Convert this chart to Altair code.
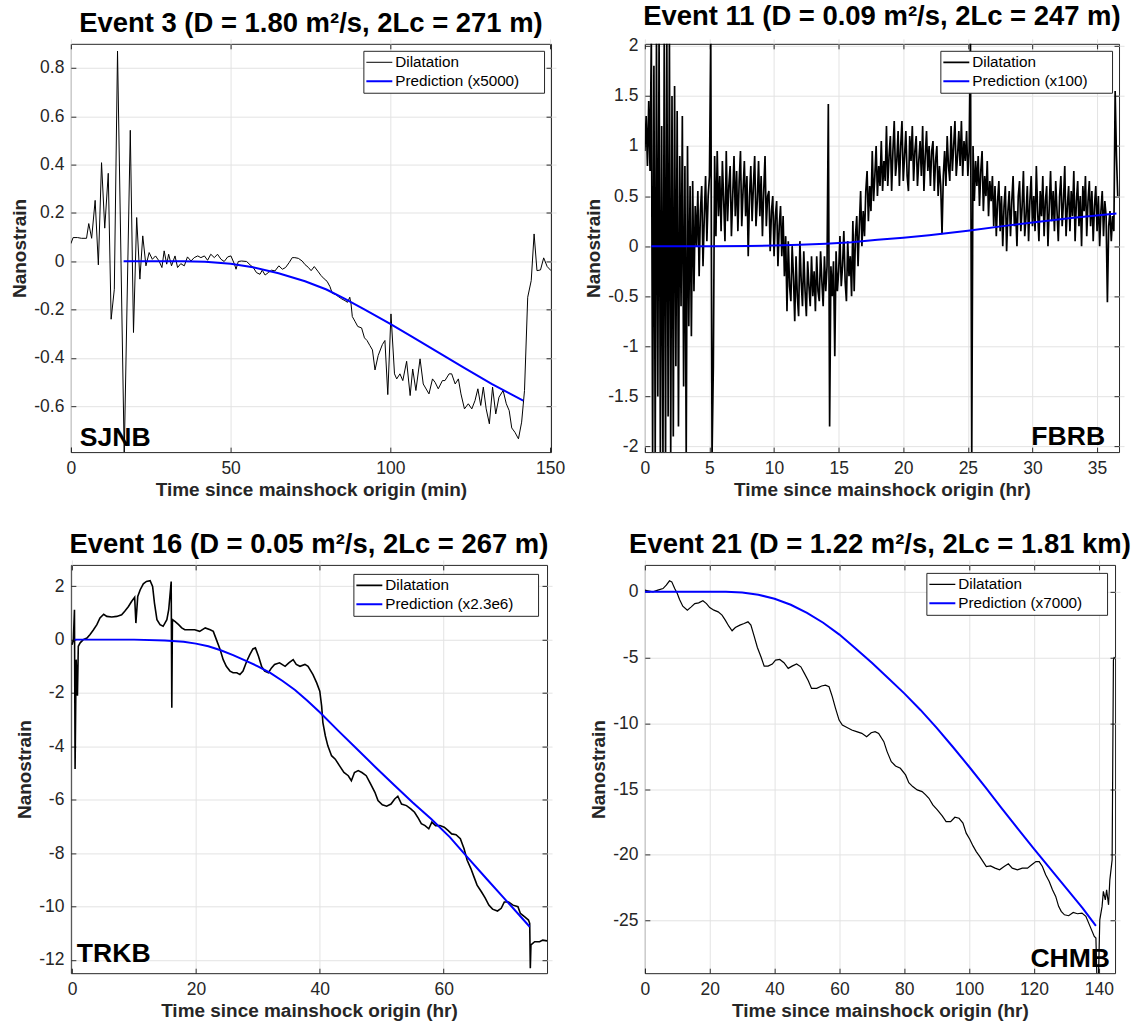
import altair as alt
import pandas as pd

FONT = "Liberation Sans"
INK = "#262626"
PAD = "\u2800" * 2  # blank glyphs that widen the legend box on the right

# ---------------- Event 3 : SJNB (minutes) ----------------
sjnb_t = [0, 0.7, 2.1, 3.3, 4.9, 5.6, 6.5, 7.6, 8.6, 9.6,
          10.6, 11.7, 12.6, 13.6, 14.6, 16.7, 18.6, 19.6, 20.6, 21.6,
          22.5, 23.5, 24.5, 25.5, 26.5, 27.6, 28.5, 29.2, 30.0, 30.6,
          31.5, 32.6, 33.4, 34.4, 35.5, 36.5, 37.6, 38.6, 39.7, 40.7,
          41.8, 42.8, 43.8, 44.9, 45.9, 47.0, 48.0, 49.1, 50.1, 51.2,
          51.7, 52.4, 53.4, 55.0, 56.1, 57.1, 58.1, 59.2, 59.9, 60.8,
          61.8, 62.8, 63.9, 65.1, 66.2, 67.2, 68.3, 69.3, 70.1, 71.2,
          72.4, 73.3, 74.3, 75.2, 76.2, 77.3, 78.3, 79.3, 80.2, 81.1,
          81.8, 82.9, 83.7, 84.8, 85.8, 86.6, 87.3, 87.7, 88.1, 88.9,
          89.8, 91.0, 91.9, 92.7, 93.6, 94.4, 95.2, 96.2, 97.5, 98.3,
          99.2, 100.2, 101.3, 102.0, 103.0, 103.9, 105.1, 106.2, 107.0, 108.0,
          109.3, 110.3, 112.1, 113.2, 114.0, 115.0, 116.3, 117.1, 118.4, 119.2,
          120.3, 121.3, 122.1, 123.2, 124.4, 125.5, 126.5, 127.4, 128.3, 129.1,
          130.0, 131.0, 132.0, 133.0, 134.0, 135.3, 136.3, 137.2, 138.0, 139.0,
          140.1, 141.1, 142.0, 143.0, 144.1, 145.0, 145.9, 147.0, 148.0, 149.1,
          150.3]
sjnb_v = [0.073, 0.098, 0.098, 0.095, 0.095, 0.156, 0.095, 0.252, -0.015, 0.408,
          0.137, 0.364, -0.240, -0.116, 0.870, -0.800, 0.542, -0.295, 0.181, -0.074,
          0.105, -0.019, 0.036, 0.008, 0.022, 0.001, -0.026, 0.043, -0.012, 0.029,
          -0.019, 0.022, -0.026, -0.010, -0.019, 0.018, 0.001, 0.015, 0.022, 0.015,
          0.022, 0.004, 0.029, 0.015, 0.029, 0.008, -0.001, 0.018, 0.022, -0.012,
          -0.033, -0.001, 0.001, -0.001, -0.015, -0.026, -0.047, -0.054, -0.037, -0.057,
          -0.047, -0.037, -0.040, -0.019, -0.033, -0.026, -0.006, 0.015, 0.015, 0.012,
          0.001, -0.014, -0.025, -0.039, -0.022, -0.041, -0.059, -0.073, -0.083, -0.105,
          -0.132, -0.138, -0.146, -0.156, -0.163, -0.170, -0.149, -0.177, -0.229, -0.248,
          -0.270, -0.276, -0.317, -0.328, -0.349, -0.367, -0.450, -0.390, -0.345, -0.328,
          -0.552, -0.218, -0.466, -0.487, -0.466, -0.494, -0.414, -0.556, -0.446, -0.535,
          -0.404, -0.508, -0.549, -0.487, -0.501, -0.528, -0.494, -0.494, -0.466, -0.466,
          -0.508, -0.487, -0.549, -0.611, -0.590, -0.611, -0.577, -0.528, -0.597, -0.521,
          -0.611, -0.673, -0.521, -0.632, -0.563, -0.535, -0.590, -0.618, -0.690, -0.708,
          -0.735, -0.666, -0.535, -0.149, -0.080, 0.113, -0.039, -0.036, 0.014, -0.022,
          -0.039]
sjnb_pred_t = [16.5, 25, 35, 42, 50, 57, 65, 73.3, 80, 85.8, 92, 99.7, 107, 115, 123, 131.7, 137, 141.6]
sjnb_pred_v = [0, 0, 0, -0.002, -0.010, -0.025, -0.050, -0.083, -0.117, -0.156, -0.200, -0.257,
               -0.314, -0.377, -0.440, -0.508, -0.545, -0.577]

# ---------------- Event 11 : FBRB (hours, 0.1 h samples) ----------------
fbrb_v = [
    # 0.0 - 0.4
    0.95, 1.3, 0.8, 1.45, 0.75,
    # 0.5 - 2.1
    2.1, -2.1, 1.8, -2.1, 2.1, -1.5, 2.1, -2.1, 1.2, -2.1, 2.1, -2.1, 2.1, -1.7, 2.1, -2.1, 1.5,
    # 2.2 - 3.5
    -1.9, 1.6, -1.2, 1.35, -1.8, 0.9, -0.6, 1.3, -1.4, 0.8, -2.1, 1.0, -0.8, 0.6,
    # 3.6 - 4.9
    -0.9, 0.65, -0.45, 0.4, 0.0, 0.55, -0.3, 0.35, 0.6, -0.2, 0.3, 0.7, 0.05, 0.5,
    # 5.0 - 5.4
    0.7, 2.1, -2.1, -1.2, 0.9,
    # 5.5 - 9.5
    0.1, 0.95, 0.3, 0.7, 0.15, 0.85, 0.45, 0.05, 0.95, 0.25,
    0.6, 0.8, 0.1, 0.5, 0.9, 0.3, 0.75, 0.15, 0.65, 0.95,
    0.2, 0.55, 0.85, 0.3, 0.7, -0.1, 0.5, 0.8, 0.25, 0.6,
    0.9, 0.2, 0.45, 0.85, 0.3, 0.7, 0.1, 0.55, 0.9, 0.2, 0.5,
    # 9.6 - 10.9
    0.55, -0.05, 0.35, 0.5, -0.1, 0.3, 0.45, -0.2, 0.2, 0.4, -0.1, 0.3, -0.3, 0.1,
    # 11.0 - 14.1
    -0.65, 0.05, -0.4, -0.55, 0.0, -0.3, -0.75, -0.1, -0.5, -0.7,
    0.05, -0.35, -0.6, -0.05, -0.45, -0.7, -0.15, -0.4, -0.6, -0.1,
    -0.5, -0.25, -0.65, -0.1, -0.45, -0.55, -0.05, -0.35, -0.6, -0.1,
    -0.45, -0.2,
    # 14.2 - 14.3
    1.42, -1.8,
    # 14.4 - 16.0
    -0.2, -0.5, -0.15, -1.1, -0.05, -0.45, -0.25, 0.1, -0.4, -0.2, 0.15, -0.35, -0.55, 0.05,
    -0.3, -0.1, -0.5,
    # 16.1 - 18.9
    0.25, -0.45, 0.1, 0.3, -0.2, 0.2, 0.55, 0.0, 0.35, 0.1,
    0.55, 0.75, 0.25, 0.6, 0.35, 0.95, 0.45, 0.7, 1.0, 0.5,
    0.8, 0.6, 1.05, 0.55, 0.85, 0.65, 1.2, 0.6, 0.9,
    # 19.0 - 22.8
    1.1, 0.55, 0.95, 1.25, 0.7, 0.85, 1.15, 0.6, 1.0, 1.25,
    0.65, 0.9, 1.15, 0.7, 0.55, 1.1, 0.85, 1.2, 0.65, 0.95,
    1.1, 0.6, 0.85, 1.05, 0.7, 1.2, 0.55, 0.9, 1.15, 0.75,
    1.0, 0.6, 0.95, 1.05, 0.55, 0.85, 1.0, 0.5, 0.8,
    # 22.9 - 23.1
    0.6, 0.12, 0.7,
    # 23.2 - 25.1
    0.95, 0.6, 1.1, 0.8, 0.65, 1.2, 0.75, 1.0, 1.25, 0.7,
    0.9, 1.15, 0.8, 1.25, 0.7, 1.05, 0.85, 1.15, 0.7, 0.95,
    # 25.2 - 25.3
    2.1, -2.1,
    # 25.4 - 26.9
    1.0, 0.45, 0.85, 0.6, 0.9, 0.4, 0.75, 0.95, 0.35, 0.7, 0.5, 0.85, 0.3, 0.65, 0.45, 0.7,
    # 27.0 - 35.7
    0.2, 0.6, 0.1, 0.45, 0.65, 0.15, 0.5, 0.0, 0.4, 0.6,
    -0.05, 0.35, 0.55, 0.1, 0.45, 0.7, 0.2, 0.35, 0.0, 0.5,
    0.65, 0.15, 0.4, 0.75, 0.1, 0.3, 0.6, 0.05, 0.45, 0.7,
    0.2, 0.5, 0.15, 0.8, 0.35, 0.05, 0.55, 0.3, 0.7, 0.1,
    0.45, 0.6, 0.0, 0.4, 0.75, 0.25, 0.55, 0.15, 0.65, 0.35,
    0.05, 0.5, 0.7, 0.2, 0.45, 0.8, 0.1, 0.4, 0.6, 0.15,
    0.55, 0.3, 0.75, 0.05, 0.45, 0.65, 0.2, 0.5, 0.0, 0.6,
    0.35, 0.7, 0.1, 0.45, 0.65, 0.2, 0.55, 0.05, 0.4, 0.6,
    0.15, 0.5, 0.0, 0.35, 0.55, 0.1, 0.45, 0.3,
    # 35.8 - 36.6
    -0.56, 0.2, 0.35, 0.05, 0.3, 0.15, 1.55, 0.9, 0.5,
]
fbrb_t = [round(0.1 * i, 1) for i in range(len(fbrb_v))]
fbrb_pred_t = [0.5, 5, 8, 10, 12, 14, 16, 18, 20, 22, 25, 28, 30, 33, 36.5]
fbrb_pred_v = [0, 0, 0.002, 0.006, 0.014, 0.025, 0.040, 0.063, 0.085, 0.110, 0.155, 0.205, 0.236, 0.280, 0.326]

# ---------------- Event 16 : TRKB (hours) ----------------
trkb_t = [0, 0.2, 0.38, 0.48, 0.65, 0.86, 1.0, 1.3, 1.8, 2.4,
          2.9, 3.4, 4.0, 4.5, 5.1, 5.6, 6.4, 7.2, 8.0, 8.5,
          9.1, 9.6, 10.1, 10.3, 10.6, 11.0, 11.5, 12.0, 12.6, 13.0,
          13.3, 13.7, 14.2, 14.7, 15.3, 15.6, 16.0, 16.1, 16.2, 16.6,
          17.2, 17.7, 18.2, 19.0, 19.8, 20.6, 21.5, 22.3, 22.8, 23.3,
          23.9, 24.4, 24.9, 25.5, 26.0, 26.6, 27.1, 27.6, 28.2, 28.7,
          29.2, 29.6, 30.1, 30.6, 31.1, 31.7, 32.2, 32.7, 33.5, 34.4,
          35.0, 35.7, 36.2, 36.8, 37.6, 38.1, 38.9, 39.5, 40.0, 40.3,
          40.5, 40.9, 41.3, 41.9, 42.5, 43.2, 43.9, 44.6, 45.1, 45.6,
          46.2, 46.8, 47.5, 48.2, 48.9, 49.4, 50.1, 50.8, 51.5, 52.1,
          52.6, 53.2, 54.0, 54.7, 55.3, 55.9, 56.4, 57.0, 57.6, 58.1,
          58.7, 59.4, 60.1, 60.7, 61.3, 62.0, 62.7, 63.3, 63.8, 64.4,
          64.9, 65.4, 66.1, 66.7, 67.3, 67.9, 68.7, 69.3, 69.8, 70.5,
          71.2, 72.0, 72.4, 73.1, 73.7, 73.9, 74.0, 74.1, 74.7, 75.5,
          76.0, 76.7]
trkb_v = [-0.19, 0.0, 1.12, -4.85, -0.75, -2.1, -0.25, -0.12, 0.0, 0.06,
          0.19, 0.35, 0.56, 0.81, 0.95, 0.87, 0.85, 0.87, 0.93, 1.06,
          1.24, 1.43, 1.59, 0.62, 1.62, 1.87, 2.09, 2.18, 2.21, 1.99,
          1.37, 0.75, 0.56, 0.50, 0.75, 1.12, 2.18, -2.55, 0.75, 0.68,
          0.56, 0.44, 0.37, 0.37, 0.37, 0.31, 0.44, 0.37, 0.31, 0.0,
          -0.37, -0.75, -1.0, -1.18, -1.24, -1.24, -1.31, -1.18, -0.81, -0.56,
          -0.35, -0.31, -0.62, -1.0, -1.18, -1.24, -1.06, -0.93, -0.87, -1.0,
          -0.87, -0.75, -0.93, -1.0, -0.93, -1.0, -1.31, -1.62, -1.93, -2.49,
          -3.11, -3.61, -3.98, -4.35, -4.48, -4.73, -4.98, -5.10, -5.29, -4.98,
          -4.91, -4.98, -5.10, -5.41, -5.72, -6.03, -6.19, -6.24, -6.16, -5.97,
          -5.87, -6.16, -6.22, -6.34, -6.47, -6.69, -6.90, -6.97, -7.09, -6.84,
          -6.97, -6.97, -7.03, -7.15, -7.28, -7.31, -7.46, -7.84, -8.27, -8.58,
          -8.89, -9.20, -9.45, -9.68, -9.95, -10.10, -10.17, -10.07, -9.83, -9.83,
          -9.95, -10.01, -10.26, -10.39, -10.51, -10.63, -12.31, -11.44, -11.32, -11.32,
          -11.26, -11.29]
trkb_pred_t = [0.4, 10, 15, 18, 20, 22, 24, 26, 28, 30, 32, 34, 36, 38, 40,
               43, 46, 49, 52, 55, 58, 61, 64, 67, 70, 73.9]
trkb_pred_v = [0, 0, -0.03, -0.08, -0.15, -0.25, -0.40, -0.58, -0.79, -1.0, -1.25, -1.55,
               -1.89, -2.29, -2.72, -3.42, -4.10, -4.78, -5.45, -6.10, -6.72, -7.40,
               -8.20, -8.98, -9.75, -10.76]

# ---------------- Event 21 : CHMB (hours) ----------------
chmb_t = [0, 0.9, 2.5, 4.0, 5.6, 6.6, 7.6, 8.3, 9.2, 10.0,
          10.7, 11.7, 13.1, 14.3, 15.4, 16.6, 17.9, 19.0, 20.0, 21.3,
          22.6, 23.8, 24.8, 25.9, 26.9, 27.9, 29.3, 30.6, 31.8, 32.7,
          33.7, 34.7, 35.8, 36.8, 38.0, 39.3, 40.3, 41.6, 42.9, 44.2,
          45.4, 46.8, 48.1, 49.2, 50.4, 51.4, 53.0, 54.5, 55.7, 56.8,
          57.8, 58.8, 59.9, 60.9, 62.2, 63.8, 65.3, 66.9, 68.4, 69.8,
          71.0, 72.1, 73.7, 74.7, 76.0, 77.3, 78.8, 80.4, 81.4, 82.6,
          84.0, 85.5, 86.6, 87.6, 88.8, 90.2, 91.7, 92.9, 94.3, 95.6,
          96.9, 98.1, 99.1, 100.2, 101.2, 102.2, 103.3, 104.3, 105.3, 106.6,
          108.0, 109.4, 110.8, 112.1, 113.3, 114.9, 116.4, 118.0, 119.3, 120.6,
          121.6, 122.6, 123.6, 124.7, 125.7, 126.7, 127.6, 128.4, 129.4, 130.7,
          132.1, 133.4, 134.8, 136.0, 137.3, 138.6, 139.1, 139.4, 139.9, 140.3,
          141.0, 141.4, 142.0, 142.4, 143.0, 143.4, 144.1, 144.5, 144.8]
chmb_v = [0.13, 0.08, 0.0, 0.13, 0.25, 0.51, 0.84, 0.76, 0.25, -0.13,
          -0.58, -1.09, -1.39, -1.14, -0.89, -0.84, -0.68, -0.89, -1.19, -1.39,
          -1.52, -1.77, -2.15, -2.61, -2.96, -2.71, -2.53, -2.41, -2.28, -2.53,
          -3.37, -4.23, -4.94, -5.65, -5.65, -5.49, -5.19, -5.14, -5.39, -5.82,
          -5.65, -5.49, -5.70, -6.20, -6.76, -7.34, -7.34, -7.16, -7.09, -7.22,
          -7.97, -8.86, -9.75, -10.13, -10.30, -10.51, -10.63, -10.76, -11.01, -10.71,
          -10.63, -10.76, -11.39, -12.15, -12.91, -13.24, -13.42, -13.92, -14.51, -14.81,
          -15.06, -15.19, -15.44, -15.70, -16.20, -16.58, -17.04, -17.47, -17.47, -17.14,
          -17.22, -17.59, -18.35, -18.81, -19.32, -19.75, -20.13, -20.51, -20.89, -20.84,
          -21.01, -21.14, -20.89, -20.68, -21.01, -21.14, -21.01, -21.01, -20.76, -20.51,
          -20.51, -20.89, -21.52, -22.03, -22.66, -23.16, -23.92, -24.30, -24.56, -24.63,
          -24.38, -24.48, -24.43, -24.68, -25.44, -26.20, -26.33, -29.3, -29.2, -24.94,
          -23.92, -22.78, -23.42, -22.66, -23.80, -21.90, -20.38, -5.19, -4.94]
chmb_pred_t = [0, 25, 30, 35, 40, 45, 50, 55, 60, 65, 70, 75, 80, 85, 90, 95,
               100, 105, 110, 115, 120, 125, 130, 135, 139.1]
chmb_pred_v = [0, 0, -0.05, -0.22, -0.52, -0.98, -1.6, -2.35, -3.25, -4.3, -5.4, -6.55,
               -7.72, -8.98, -10.35, -11.8, -13.3, -14.85, -16.45, -18.0, -19.55,
               -21.05, -22.55, -24.05, -25.4]

PANELS = [
    dict(title="Event 3 (D = 1.80 m²/s, 2Lc = 271 m)", station="SJNB",
         t=sjnb_t, v=sjnb_v, pt=sjnb_pred_t, pv=sjnb_pred_v, pred="Prediction (x5000)",
         xdom=[0, 150.3], ydom=[-0.79, 0.90], xticks=[0, 50, 100, 150],
         yticks=[-0.6, -0.4, -0.2, 0, 0.2, 0.4, 0.6, 0.8], unit="min",
         w=481, h=409, st_x=9, st_dy=6, st_align="left", leg_off=7, lw=1.0),
    dict(title="Event 11 (D = 0.09 m²/s, 2Lc = 247 m)", station="FBRB",
         t=fbrb_t, v=fbrb_v, pt=fbrb_pred_t, pv=fbrb_pred_v, pred="Prediction (x100)",
         xdom=[0, 36.7], ydom=[-2.056, 2.02], xticks=[0, 5, 10, 15, 20, 25, 30, 35],
         yticks=[-2, -1.5, -1, -0.5, 0, 0.5, 1, 1.5, 2], unit="hr",
         w=475, h=409, st_x=-14, st_dy=7, st_align="right", leg_off=7, lw=1.7),
    dict(title="Event 16 (D = 0.05 m²/s, 2Lc = 267 m)", station="TRKB",
         t=trkb_t, v=trkb_v, pt=trkb_pred_t, pv=trkb_pred_v, pred="Prediction (x2.3e6)",
         xdom=[-0.2, 76.7], ydom=[-12.5, 2.8], xticks=[0, 20, 40, 60],
         yticks=[-12, -10, -8, -6, -4, -2, 0, 2], unit="hr",
         w=477, h=409, st_x=6, st_dy=11, st_align="left", leg_off=9, lw=1.6),
    dict(title="Event 21 (D = 1.22 m²/s, 2Lc = 1.81 km)", station="CHMB",
         t=chmb_t, v=chmb_v, pt=chmb_pred_t, pv=chmb_pred_v, pred="Prediction (x7000)",
         xdom=[0, 145.0], ydom=[-29.0, 2.05], xticks=[0, 20, 40, 60, 80, 100, 120, 140],
         yticks=[-25, -20, -15, -10, -5, 0], unit="hr",
         w=471, h=409, st_x=-5, st_dy=6, st_align="right", leg_off=8, lw=1.2),
]


def panel(p):
    names = ["Dilatation", p["pred"]]
    obs = pd.DataFrame({"t": p["t"], "v": p["v"], "series": names[0]})
    pred = pd.DataFrame({"t": p["pt"], "v": p["pv"], "series": names[1]})
    df = pd.concat([obs, pred], ignore_index=True)

    xscale = alt.Scale(domain=p["xdom"], nice=False, zero=False)
    yscale = alt.Scale(domain=p["ydom"], nice=False, zero=False)

    legend = alt.Legend(
        title=None, orient="top-right", offset=p["leg_off"],
        fillColor="white", strokeColor=INK, cornerRadius=0, padding=2,
        labelFont=FONT, labelFontSize=15.3, labelColor="black", labelLimit=300,
        labelOffset=2, rowPadding=0, clipHeight=19, symbolType="stroke", symbolSize=676,
        labelExpr="datum.label + '" + PAD + "'",
    )

    lines = alt.Chart(df).mark_line(clip=True).encode(
        x=alt.X("t:Q", scale=xscale,
                axis=alt.Axis(values=p["xticks"], title=f"Time since mainshock origin ({p['unit']})",
                              labelExpr="'' + datum.value")),
        y=alt.Y("v:Q", scale=yscale,
                axis=alt.Axis(values=p["yticks"], title="Nanostrain", labelExpr="'' + datum.value")),
        color=alt.Color("series:N", scale=alt.Scale(domain=names, range=["#000000", "#0000ff"]),
                        legend=legend),
        strokeWidth=alt.StrokeWidth("series:N", scale=alt.Scale(domain=names, range=[p["lw"], 2]),
                                    legend=legend),
    )

    # inward ticks on the top and right edges of the box
    frame = alt.Chart(pred).mark_line(opacity=0).encode(
        x=alt.X("t:Q", scale=xscale,
                axis=alt.Axis(orient="top", values=p["xticks"], labels=False, title=None, grid=False)),
        y=alt.Y("v:Q", scale=yscale,
                axis=alt.Axis(orient="right", values=p["yticks"], labels=False, title=None, grid=False)),
    )

    sx = p["st_x"] if p["st_x"] >= 0 else p["w"] + p["st_x"]
    tag = alt.Chart(pd.DataFrame({"name": [p["station"]]})).mark_text(
        font=FONT, fontSize=26.6, fontWeight="bold", color="black",
        align=p["st_align"], baseline="alphabetic",
    ).encode(x=alt.value(sx), y=alt.value(p["h"] - p["st_dy"]), text="name:N")

    return alt.layer(lines, frame, tag).resolve_axis(x="independent", y="independent").properties(
        width=p["w"], height=p["h"],
        title=alt.Title(p["title"], font=FONT, fontSize=27.5, fontWeight="bold", color="black",
                        anchor="middle", offset=6),
    )


chart = alt.concat(*[panel(p) for p in PANELS], columns=2,
                   spacing={"row": 30, "column": 18}).resolve_scale(
    color="independent", strokeWidth="independent",
).resolve_legend(
    color="independent", strokeWidth="independent",
).configure(
    padding={"left": 10, "top": 2, "right": 5, "bottom": 0},
    background="white",
).configure_view(
    stroke=INK, strokeWidth=1,
).configure_axis(
    labelFont=FONT, labelFontSize=17.5, labelColor=INK,
    titleFont=FONT, titleFontSize=19, titleFontWeight="bold", titleColor=INK,
    gridColor="#e3e3e3", gridWidth=1,
    domain=False, ticks=True, tickSize=5, tickColor=INK, offset=-5,
    labelPadding=7, titlePadding=4, labelFlush=False, labelOverlap=False,
)

chart.save("out.html", embed_options={"renderer": "svg", "actions": False})
